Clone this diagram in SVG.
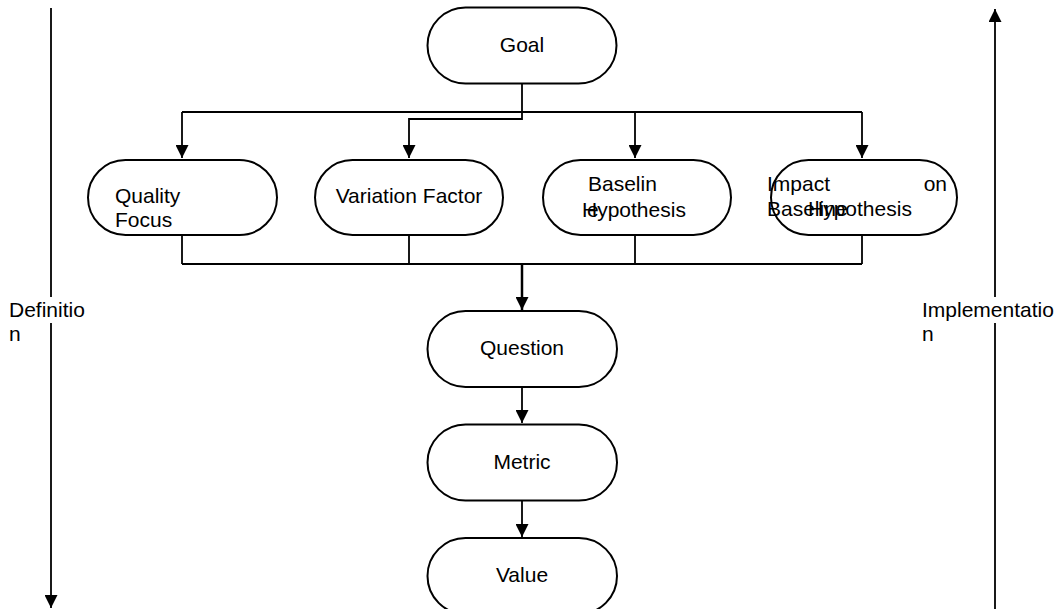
<svg xmlns="http://www.w3.org/2000/svg" width="1056" height="609" viewBox="0 0 1056 609">
<style>
.n{fill:#fff;stroke:#000;stroke-width:2}
.t{font-family:"Liberation Sans",Arial,sans-serif;font-size:21px;fill:#000}
.c{text-anchor:middle}
.l{fill:none;stroke:#000;stroke-width:1.8}
</style>
<defs>
<marker id="ah" markerWidth="14" markerHeight="13" refX="13" refY="6.5" orient="auto" markerUnits="userSpaceOnUse">
<path d="M0,0 L13,6.5 L0,13 Z" fill="#000"/>
</marker>
</defs>
<rect width="1056" height="609" fill="#fff"/>
<g id="connectors">
<line class="l" x1="51" y1="8" x2="51" y2="608" marker-end="url(#ah)"/>
<line class="l" x1="995" y1="609" x2="995" y2="9" marker-end="url(#ah)"/>
<polyline class="l" points="522,83 522,119 409,119 409,158" marker-end="url(#ah)"/>
<line class="l" x1="182" y1="112" x2="862" y2="112"/>
<line class="l" x1="182" y1="112" x2="182" y2="158" marker-end="url(#ah)"/>
<line class="l" x1="635" y1="112" x2="635" y2="158" marker-end="url(#ah)"/>
<line class="l" x1="862" y1="112" x2="862" y2="158" marker-end="url(#ah)"/>
<line class="l" x1="182" y1="264" x2="862" y2="264"/>
<line class="l" x1="182" y1="235" x2="182" y2="264"/>
<line class="l" x1="409" y1="235" x2="409" y2="264"/>
<line class="l" x1="635" y1="235" x2="635" y2="264"/>
<line class="l" x1="862" y1="235" x2="862" y2="264"/>
<line class="l" style="stroke-width:2.5" x1="522" y1="264" x2="522" y2="310" marker-end="url(#ah)"/>
<line class="l" x1="522" y1="387" x2="522" y2="423" marker-end="url(#ah)"/>
<line class="l" x1="522" y1="500" x2="522" y2="537" marker-end="url(#ah)"/>
</g>
<g id="definition">
<rect x="8" y="297" width="78" height="26" fill="#fff"/>
<text class="t" x="9" y="317">Definitio</text>
<text class="t" x="9" y="341">n</text>
</g>
<g id="implementation">
<rect x="921" y="297" width="134" height="26" fill="#fff"/>
<text class="t" x="922" y="317">Implementatio</text>
<text class="t" x="922" y="341">n</text>
</g>
<g id="goal">
<rect class="n" x="427.5" y="7.5" width="189" height="76" rx="38"/>
<text class="t c" x="522" y="52">Goal</text>
</g>
<g id="quality-focus">
<rect class="n" x="88" y="160" width="189" height="75" rx="37.5"/>
<text class="t" x="115" y="203">Quality</text>
<text class="t" x="115" y="227">Focus</text>
</g>
<g id="variation-factor">
<rect class="n" x="315" y="160" width="188" height="75" rx="37.5"/>
<text class="t c" x="409" y="203">Variation Factor</text>
</g>
<g id="baseline-hypothesis">
<rect class="n" x="543" y="160" width="188" height="75" rx="37.5"/>
<text class="t" x="588" y="191">Baselin</text>
<text class="t" x="587" y="217">e</text>
<text class="t" x="582" y="217">Hypothesis</text>
</g>
<g id="impact-on-baseline-hypothesis">
<rect class="n" x="771" y="160" width="186" height="75" rx="37.5"/>
<text class="t" x="767" y="191">Impact</text>
<text class="t" x="947" y="191" text-anchor="end">on</text>
<text class="t" x="767" y="216">Baseline</text>
<text class="t" x="808" y="216">Hypothesis</text>
</g>
<g id="question">
<rect class="n" x="427.5" y="311" width="189.5" height="76" rx="38"/>
<text class="t c" x="522" y="355">Question</text>
</g>
<g id="metric">
<rect class="n" x="427.5" y="424.5" width="189.5" height="76" rx="38"/>
<text class="t c" x="522" y="469">Metric</text>
</g>
<g id="value">
<rect class="n" x="427.5" y="538" width="189.5" height="76" rx="38"/>
<text class="t c" x="522" y="582">Value</text>
</g>
</svg>
